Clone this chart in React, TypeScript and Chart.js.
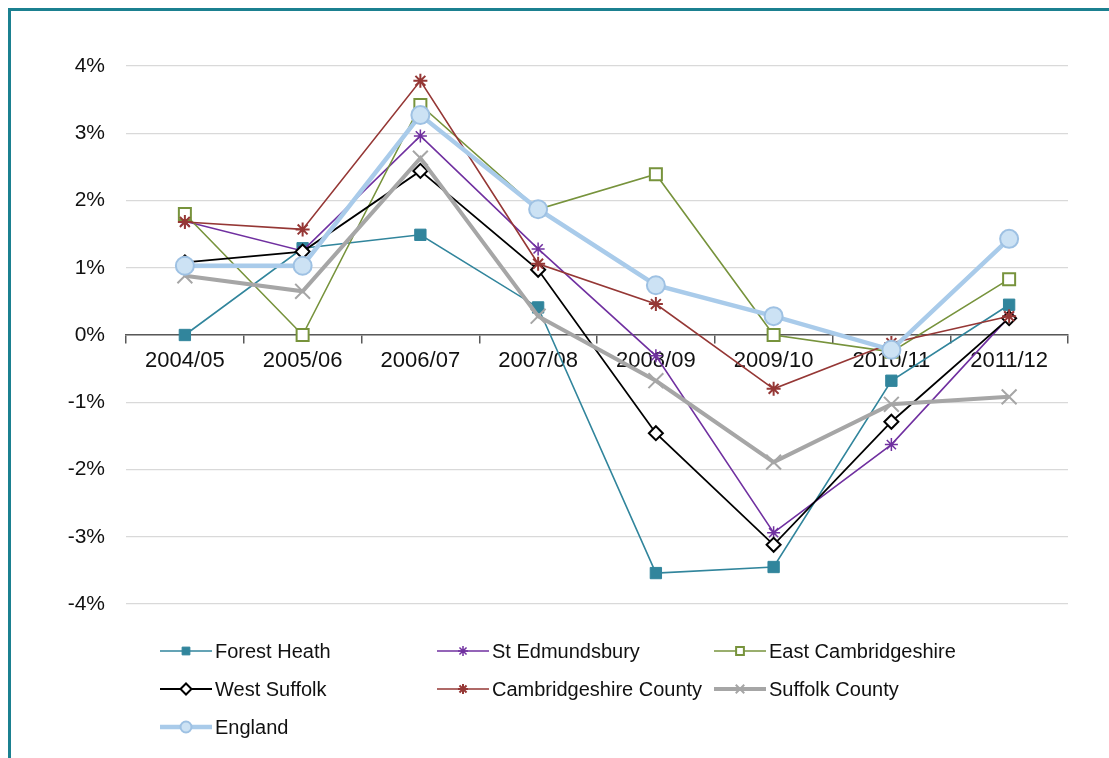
import { useEffect, useRef } from 'react';
import { Chart, registerables } from 'chart.js';
import { drawPoint } from 'chart.js/helpers';

Chart.register(...registerables);

const categories = ['2004/05', '2005/06', '2006/07', '2007/08', '2008/09', '2009/10', '2010/11', '2011/12'];

const forestHeath = [0.0, 1.29, 1.49, 0.41, -3.54, -3.45, -0.68, 0.45];
const stEdmundsbury = [1.69, 1.25, 2.96, 1.28, -0.31, -2.94, -1.63, 0.27];
const eastCambridgeshire = [1.8, 0.0, 3.42, 1.87, 2.39, 0.0, -0.25, 0.83];
const westSuffolk = [1.08, 1.24, 2.44, 0.97, -1.46, -3.12, -1.29, 0.25];
const cambridgeshireCounty = [1.68, 1.57, 3.78, 1.06, 0.46, -0.8, -0.12, 0.28];
const suffolkCounty = [0.88, 0.65, 2.63, 0.28, -0.68, -1.89, -1.03, -0.92];
const england = [1.03, 1.03, 3.27, 1.87, 0.74, 0.28, -0.22, 1.43];

const seriesNames = [
  'Forest Heath',
  'St Edmundsbury',
  'East Cambridgeshire',
  'West Suffolk',
  'Cambridgeshire County',
  'Suffolk County',
  'England',
];

const yMin = -4;
const yMax = 4;
const yStep = 1;

const FONT = '"Liberation Sans", Arial, sans-serif';

const styles = [
  { color: '#31859C', width: 1.6, point: 'rect', radius: 8, fill: '#31859C', pBorder: '#31859C', pWidth: 1, lr: 5.5 },
  { color: '#7030A0', width: 1.6, point: 'star', radius: 6.5, fill: '#7030A0', pBorder: '#7030A0', pWidth: 1.5, lr: 5 },
  { color: '#77933C', width: 1.6, point: 'rect', radius: 8.5, fill: '#FFFFFF', pBorder: '#77933C', pWidth: 2, lr: 5.5 },
  { color: '#000000', width: 1.8, point: 'rectRot', radius: 7, fill: '#FFFFFF', pBorder: '#000000', pWidth: 2, lr: 5.5 },
  { color: '#953735', width: 1.6, point: 'star', radius: 7, fill: '#953735', pBorder: '#953735', pWidth: 2, lr: 5 },
  { color: '#A6A6A6', width: 4, point: 'crossRot', radius: 10.5, fill: '#A6A6A6', pBorder: '#A6A6A6', pWidth: 2, lr: 6 },
  { color: '#A9CBEA', width: 4.5, point: 'circle', radius: 9, fill: '#CCE2F4', pBorder: '#9EC1E3', pWidth: 2, lr: 5.5 },
];

const seriesData = [forestHeath, stEdmundsbury, eastCambridgeshire, westSuffolk, cambridgeshireCounty, suffolkCounty, england];

const legendCols = [149, 426, 703];
const legendRows = [640, 678, 716];

const legendPlugin = {
  id: 'gridLegend',
  afterDraw(chart: any) {
    const ctx = chart.ctx;
    chart.data.datasets.forEach((ds: any, i: number) => {
      const st = styles[i];
      const x = legendCols[i % 3];
      const y = legendRows[Math.floor(i / 3)];
      ctx.save();
      ctx.strokeStyle = st.color;
      ctx.lineWidth = st.width;
      ctx.beginPath();
      ctx.moveTo(x, y);
      ctx.lineTo(x + 52, y);
      ctx.stroke();
      ctx.fillStyle = st.fill;
      ctx.strokeStyle = st.pBorder;
      ctx.lineWidth = st.pWidth;
      drawPoint(ctx, { pointStyle: st.point, radius: st.lr, rotation: 0, borderWidth: st.pWidth }, x + 26, y);
      ctx.fillStyle = '#111111';
      ctx.font = '20px ' + FONT;
      ctx.textBaseline = 'middle';
      ctx.textAlign = 'left';
      ctx.fillText(ds.label, x + 55, y + 1);
      ctx.restore();
    });
  },
};

export default function App() {
  const ref = useRef<HTMLCanvasElement | null>(null);

  useEffect(() => {
    if (!ref.current) return;
    const chart = new Chart(ref.current, {
      type: 'line',
      data: {
        labels: categories,
        datasets: seriesData.map((d, i) => ({
          label: seriesNames[i],
          data: d,
          borderColor: styles[i].color,
          borderWidth: styles[i].width,
          pointStyle: styles[i].point as any,
          pointRadius: styles[i].radius,
          pointBackgroundColor: styles[i].fill,
          pointBorderColor: styles[i].pBorder,
          pointBorderWidth: styles[i].pWidth,
          tension: 0,
          fill: false,
          order: seriesData.length - 1 - i,
        })),
      },
      options: {
        responsive: false,
        animation: false,
        events: [],
        layout: { padding: { top: 55, left: 0, right: 41, bottom: 154 } },
        plugins: {
          legend: { display: false },
          tooltip: { enabled: false },
        },
        scales: {
          x: {
            position: { y: 0 } as any,
            offset: true,
            afterFit: (s: any) => {
              s.height = 0;
            },
            grid: {
              display: true,
              drawOnChartArea: false,
              drawTicks: true,
              tickLength: 8,
              offset: true,
              color: '#595959',
              lineWidth: 1.5,
            },
            border: { display: true, color: '#595959', width: 1.5 },
            ticks: {
              font: { family: FONT, size: 22 },
              color: '#111111',
              padding: 5,
              maxRotation: 0,
              autoSkip: false,
            },
          },
          y: {
            min: yMin,
            max: yMax,
            afterFit: (s: any) => {
              s.width = 115;
            },
            grid: { color: '#D9D9D9', lineWidth: 1.2, drawTicks: false },
            border: { display: false },
            ticks: {
              stepSize: yStep,
              padding: 21,
              font: { family: FONT, size: 21 },
              color: '#111111',
              callback: (v: any) => `${v}%`,
            },
          },
        },
      },
      plugins: [legendPlugin],
    });
    return () => chart.destroy();
  }, []);

  return (
    <div
      style={{
        position: 'fixed',
        left: 8,
        top: 8,
        width: 1101,
        height: 750,
        borderTop: '3px solid #1B8090',
        borderLeft: '3px solid #1B8090',
        boxSizing: 'border-box',
        background: '#fff',
      }}
    >
      <canvas ref={ref} width={1098} height={747} style={{ display: 'block' }} />
    </div>
  );
}
